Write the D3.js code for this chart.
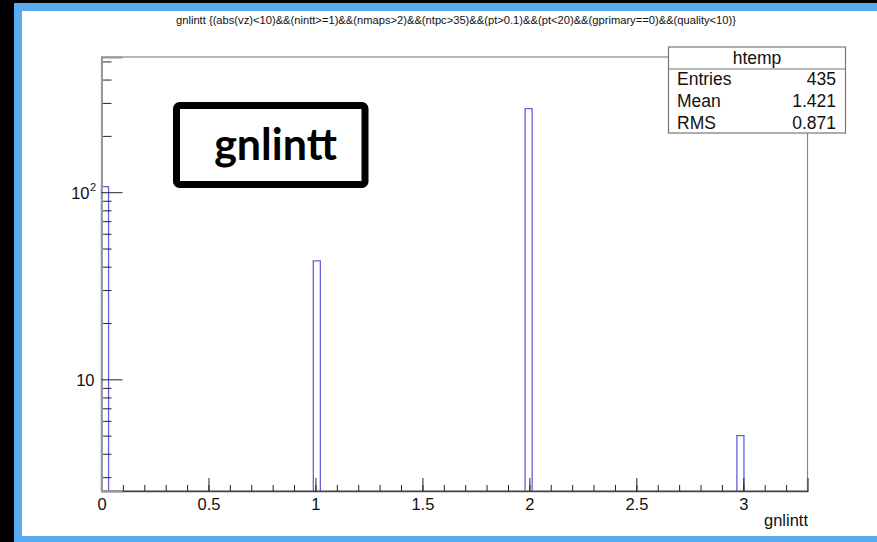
<!DOCTYPE html>
<html>
<head>
<meta charset="utf-8">
<script src="https://cdn.jsdelivr.net/npm/d3@7"></script>
<style>
	body { margin: 0; background: #000; }
</style>
</head>
<body>
<div class="hist"></div>
<script>
// histogram data (entries per integer value of gnlintt)
const values = [0, 1, 2, 3]
const counts = [107, 43, 280, 5]
const xTicks = [0, 0.5, 1, 1.5, 2, 2.5, 3]
const yMajor = [10, 100]
const yMinor = [3, 4, 5, 6, 7, 8, 9, 20, 30, 40, 50, 60, 70, 80, 90, 200, 300, 400, 500]
const statNames = ['Entries', 'Mean', 'RMS']
const statValues = ['435', '1.421', '0.871']
const title = 'gnlintt {(abs(vz)<10)&&(nintt>=1)&&(nmaps>2)&&(ntpc>35)&&(pt>0.1)&&(pt<20)&&(gprimary==0)&&(quality<10)}'

const nBins = 100
const xMax = 3.3
const binW = xMax / nBins
const font = "'Liberation Sans', Arial, sans-serif"

const width = 877
const height = 542
const svg = d3.select('.hist')
	.append('svg')
	.attr('width', width)
	.attr('height', height)
	.attr('font-family', font)

// frame: blue border, white canvas
svg.append('rect').attr('x', 14).attr('y', 3).attr('width', width).attr('height', height).attr('fill', '#5aaaf0')
svg.append('rect').attr('x', 22).attr('y', 11).attr('width', width).attr('height', 525).attr('fill', '#fff')

const x = d3.scaleLinear().domain([0, xMax]).range([101.5, 807.5])
const y = d3.scaleLog().domain([2.53, 528]).range([491, 57])

// plot box
svg.append('rect')
	.attr('x', x(0)).attr('y', y(528))
	.attr('width', x(xMax) - x(0)).attr('height', y(2.53) - y(528))
	.attr('fill', 'none').attr('stroke', '#888').attr('stroke-width', 1.2)

// histogram outline
const bins = values.map((v, i) => {
	const b = Math.floor(v / binW + 1e-9)
	return {x0: b * binW, x1: (b + 1) * binW, n: counts[i]}
})
svg.selectAll('path.bar')
	.data(bins)
	.enter()
	.append('path')
	.attr('class', 'bar')
	.attr('d', d => `M${x(d.x0)},${y(2.53)}V${y(d.n)}H${x(d.x1)}V${y(2.53)}`)
	.attr('fill', 'none')
	.attr('stroke', '#6262dc')
	.attr('stroke-width', 1.3)

// x axis: minor then major ticks
const gxMinor = svg.append('g').attr('transform', `translate(0,${y(2.53)})`)
	.call(d3.axisBottom(x).tickValues(d3.range(0, 33).map(i => i / 10)).tickSize(-6).tickFormat(''))
const gx = svg.append('g').attr('transform', `translate(0,${y(2.53)})`)
	.call(d3.axisBottom(x).tickValues(xTicks).tickSize(-13).tickPadding(7).tickFormat(d => d))
gx.selectAll('text').attr('font-size', 16.5).attr('fill', '#111').attr('font-family', font)
svg.selectAll('g line').attr('stroke', '#222')
gxMinor.select('.domain').remove()
gx.select('.domain').attr('stroke', '#444').attr('stroke-width', 1.3)

// y axis (log)
const gyMinor = svg.append('g').attr('transform', `translate(${x(0)},0)`)
	.call(d3.axisLeft(y).tickValues(yMinor).tickSize(-10).tickFormat(''))
const gy = svg.append('g').attr('transform', `translate(${x(0)},0)`)
	.call(d3.axisLeft(y).tickValues(yMajor).tickSize(-21).tickFormat(''))
gyMinor.selectAll('line').attr('stroke', '#222')
gy.selectAll('line').attr('stroke', '#222')
gyMinor.select('.domain').remove()
gy.select('.domain').attr('stroke', '#999').attr('stroke-width', 2)

// y labels: 10 and 10^2
yMajor.forEach(v => {
	const p = Math.round(Math.log10(v))
	svg.append('text')
		.attr('x', p === 1 ? 94.5 : 89.5)
		.attr('y', y(v) + 6.5)
		.attr('text-anchor', 'end')
		.attr('font-size', 16.5)
		.attr('fill', '#111')
		.text('10')
	if (p > 1) {
		svg.append('text')
			.attr('x', 90)
			.attr('y', y(v) - 1)
			.attr('font-size', 11)
			.attr('fill', '#111')
			.text(p)
	}
})

// axis title
svg.append('text')
	.attr('x', 808).attr('y', 526)
	.attr('text-anchor', 'end')
	.attr('font-size', 16.5)
	.attr('fill', '#111')
	.text('gnlintt')

// title
svg.append('text')
	.attr('x', 456).attr('y', 24)
	.attr('text-anchor', 'middle')
	.attr('font-size', 10)
	.attr('fill', '#111')
	.attr('textLength', 560)
	.attr('lengthAdjust', 'spacingAndGlyphs')
	.text(title)

// stats box
const sx = 668.5, sy = 47, sw = 177, sh = 86
svg.append('rect').attr('x', sx).attr('y', sy).attr('width', sw).attr('height', sh)
	.attr('fill', '#fff').attr('stroke', '#777').attr('stroke-width', 1.2)
svg.append('line').attr('x1', sx).attr('x2', sx + sw).attr('y1', 69).attr('y2', 69)
	.attr('stroke', '#777').attr('stroke-width', 1.2)
svg.append('text').attr('x', sx + sw / 2).attr('y', 64)
	.attr('text-anchor', 'middle').attr('font-size', 17.5).attr('fill', '#111').text('htemp')
svg.selectAll('text.sname')
	.data(statNames)
	.enter()
	.append('text')
	.attr('class', 'sname')
	.attr('x', 677)
	.attr('y', (d, i) => 85 + 22 * i)
	.attr('font-size', 17.5)
	.attr('fill', '#111')
	.text(d => d)
svg.selectAll('text.sval')
	.data(statValues)
	.enter()
	.append('text')
	.attr('class', 'sval')
	.attr('x', 836)
	.attr('y', (d, i) => 85 + 22 * i)
	.attr('text-anchor', 'end')
	.attr('font-size', 17.5)
	.attr('fill', '#111')
	.text(d => d)

// annotation box
svg.append('rect')
	.attr('x', 176.5).attr('y', 105.5).attr('width', 188.5).attr('height', 79)
	.attr('rx', 3)
	.attr('fill', '#fff').attr('stroke', '#000').attr('stroke-width', 7)
svg.append('text')
	.attr('x', 275.5).attr('y', 160)
	.attr('text-anchor', 'middle')
	.attr('font-family', 'Lato, sans-serif')
	.attr('font-weight', 'bold')
	.attr('font-size', 43)
	.attr('fill', '#000')
	.text('gnlintt')
</script>
</body>
</html>
